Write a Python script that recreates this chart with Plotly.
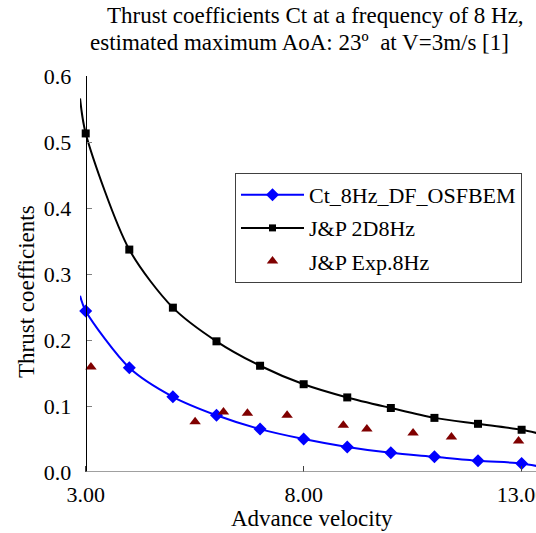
import plotly.graph_objects as go

# ---- data ----
velocity = [3, 4, 5, 6, 7, 8, 9, 10, 11, 12, 13]
ct_osfbem = [0.244, 0.158, 0.114, 0.086, 0.065, 0.050, 0.038, 0.029, 0.023, 0.017, 0.013]
jp_2d = [0.513, 0.337, 0.249, 0.198, 0.161, 0.133, 0.113, 0.097, 0.082, 0.073, 0.064]

# curve ends visible beyond the first/last markers
line_start_x = 2.87
line_end_x = 13.35
ct_osfbem_start, ct_osfbem_end = 0.267, 0.009
jp_2d_start, jp_2d_end = 0.566, 0.059

exp_x = [3.12, 5.51, 6.16, 6.71, 7.62, 8.91, 9.45, 10.51, 11.39, 12.93]
exp_y = [0.159, 0.076, 0.091, 0.089, 0.086, 0.071, 0.065, 0.059, 0.053, 0.047]

x_ticks = [3, 8, 13]
x_tick_text = ["3.00", "8.00", "13.00"]
y_ticks = [0.0, 0.1, 0.2, 0.3, 0.4, 0.5, 0.6]
y_tick_text = ["0.0", "0.1", "0.2", "0.3", "0.4", "0.5", "0.6"]

names = ["Ct_8Hz_DF_OSFBEM", "J&P 2D8Hz", "J&P Exp.8Hz"]

BLUE = "#0000FF"
BLACK = "#000000"
RED = "#800000"
FONT = "Liberation Serif, Times New Roman, serif"

X_RANGE = [2.869, 13.33]

fig = go.Figure()

# legend-only entries
fig.add_trace(go.Scatter(x=[None], y=[None], mode="lines+markers", name=names[0],
                         legendgroup="a", line=dict(color=BLUE, width=2),
                         marker=dict(symbol="diamond", size=10, color=BLUE)))
fig.add_trace(go.Scatter(x=[None], y=[None], mode="lines+markers", name=names[1],
                         legendgroup="b", line=dict(color=BLACK, width=2),
                         marker=dict(symbol="square", size=7, color=BLACK)))
fig.add_trace(go.Scatter(x=[None], y=[None], mode="markers", name=names[2],
                         legendgroup="c",
                         marker=dict(symbol="triangle-up", size=10, color=RED)))

# curves
fig.add_trace(go.Scatter(x=[line_start_x] + velocity + [line_end_x],
                         y=[ct_osfbem_start] + ct_osfbem + [ct_osfbem_end],
                         mode="lines", line=dict(color=BLUE, width=2, shape="spline", smoothing=0.8),
                         showlegend=False, hoverinfo="skip"))
fig.add_trace(go.Scatter(x=[line_start_x] + velocity + [line_end_x],
                         y=[jp_2d_start] + jp_2d + [jp_2d_end],
                         mode="lines", line=dict(color=BLACK, width=2, shape="spline", smoothing=0.8),
                         showlegend=False, hoverinfo="skip"))
# markers
fig.add_trace(go.Scatter(x=velocity, y=ct_osfbem, mode="markers", showlegend=False,
                         marker=dict(symbol="diamond", size=10, color=BLUE), cliponaxis=False))
fig.add_trace(go.Scatter(x=velocity, y=jp_2d, mode="markers", showlegend=False,
                         marker=dict(symbol="square", size=8, color=BLACK), cliponaxis=False))
fig.add_trace(go.Scatter(x=exp_x, y=exp_y, mode="markers", showlegend=False,
                         marker=dict(symbol="triangle-up", size=10, color=RED), cliponaxis=False))

L, T, B = 80, 76, 61
W, H = 536, 533
PW = W - L
PH = H - T - B


def px(xp):
    return (xp - L) / PW


def py(yp):
    return (H - B - yp) / PH


fig.update_layout(
    template="none",
    width=W, height=H,
    margin=dict(l=L, r=0, t=T, b=B, pad=0),
    paper_bgcolor="white", plot_bgcolor="white",
    font=dict(family=FONT, size=20, color="black"),
    showlegend=True,
    legend=dict(x=px(235), y=py(173), xanchor="left", yanchor="top",
                bordercolor="#404040", borderwidth=1, bgcolor="white",
                font=dict(family=FONT, size=22, color="black"),
                traceorder="grouped", tracegroupgap=1.5, itemwidth=63),
    xaxis=dict(range=X_RANGE, showline=False, showgrid=False, zeroline=False,
               tickvals=x_ticks, ticktext=x_tick_text, ticks="inside", ticklen=6,
               tickcolor="#404040", tickwidth=1, ticklabelstandoff=7,
               ticklabeloverflow="allow",
               tickfont=dict(family=FONT, size=22, color="black")),
    yaxis=dict(range=[0, 0.6], anchor="free", position=px(85.7), showline=True,
               linecolor="black", linewidth=1, showgrid=False, zeroline=False,
               tickvals=y_ticks, ticktext=y_tick_text,
               ticks="inside", ticklen=5,
               tickcolor="#808080", tickwidth=1, ticklabelstandoff=10,
               tickfont=dict(family=FONT, size=22, color="black")),
    shapes=[dict(type="line", xref="x", yref="y", x0=3, x1=X_RANGE[1], y0=0, y1=0,
                 line=dict(color="#808080", width=1.5))],
    annotations=[
        dict(text="Thrust coefficients Ct at a frequency of 8 Hz,", xref="paper", yref="paper",
             x=px(315), y=py(16), xanchor="center", yanchor="middle", showarrow=False,
             font=dict(family=FONT, size=23)),
        dict(text="estimated maximum AoA: 23º\u00a0 at V=3m/s [1]", xref="paper", yref="paper",
             x=px(299), y=py(42), xanchor="center", yanchor="middle", showarrow=False,
             font=dict(family=FONT, size=23)),
        dict(text="Advance velocity", xref="paper", yref="paper",
             x=px(312), y=py(518), xanchor="center", yanchor="middle", showarrow=False,
             font=dict(family=FONT, size=23)),
        dict(text="Thrust coefficients", xref="paper", yref="paper", textangle=-90,
             x=px(26), y=py(292), xanchor="center", yanchor="middle", showarrow=False,
             font=dict(family=FONT, size=23)),
    ],
)

fig.write_html("out.html")
